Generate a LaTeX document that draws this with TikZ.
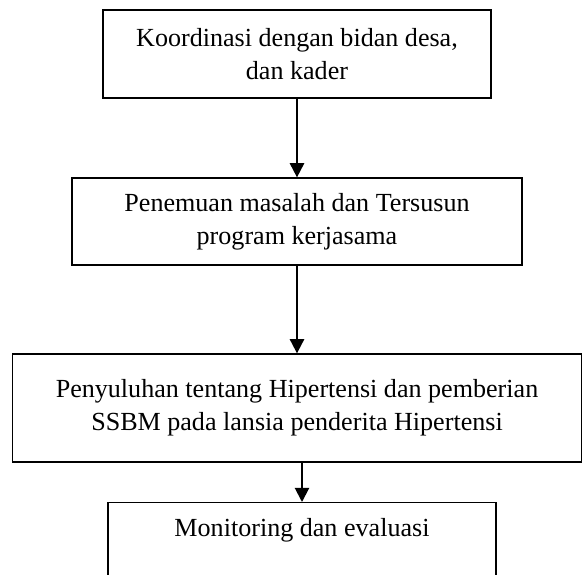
\documentclass[tikz,border=0pt]{standalone}
\usepackage{fontspec}
\setmainfont{Liberation Serif}
\usetikzlibrary{arrows.meta,positioning,calc}
\tikzset{
  boxx/.style ={draw,line width=.6pt,align=center,inner sep=3pt,font=\fontsize{12}{15}\selectfont},
  arr/.style  ={-{Triangle[length=6.5pt,width=6.5pt]},line width=.9pt},
  txt/.style  ={align=center,inner sep=0pt,font=\fontsize{12}{15}\selectfont},
}
\begin{document}
\begin{tikzpicture}[x=0.46pt,y=-0.46pt]

  \clip (0,0) rectangle (583,574);

  % ---------- kotak ----------
  \node[boxx,minimum width=178.5pt,minimum height=40.5pt] (b1) at (297,54)
    {Koordinasi dengan bidan desa,\\dan kader};
  \node[boxx,minimum width=207pt,minimum height=40pt] (b2) at (297,221.5)
    {Penemuan masalah dan Tersusun\\program kerjasama};
  \node[boxx,minimum width=262pt,minimum height=49.7pt] (b3) at (297,408)
    {Penyuluhan tentang Hipertensi dan pemberian\\SSBM pada lansia penderita Hipertensi};
  \node[boxx,minimum width=178.5pt,minimum height=50pt,anchor=north] (b4) at (302,502) {};
  \node[txt] (t4) at ([yshift=-12.9pt]b4.north) {Monitoring dan evaluasi};

  % ---------- panah ----------
  \draw[arr] (b1.south) -- (b2.north);
  \draw[arr] (b2.south) -- (b3.north);
  \draw[arr] (b3.south -| b4.north) -- (b4.north);

\end{tikzpicture}
\end{document}
